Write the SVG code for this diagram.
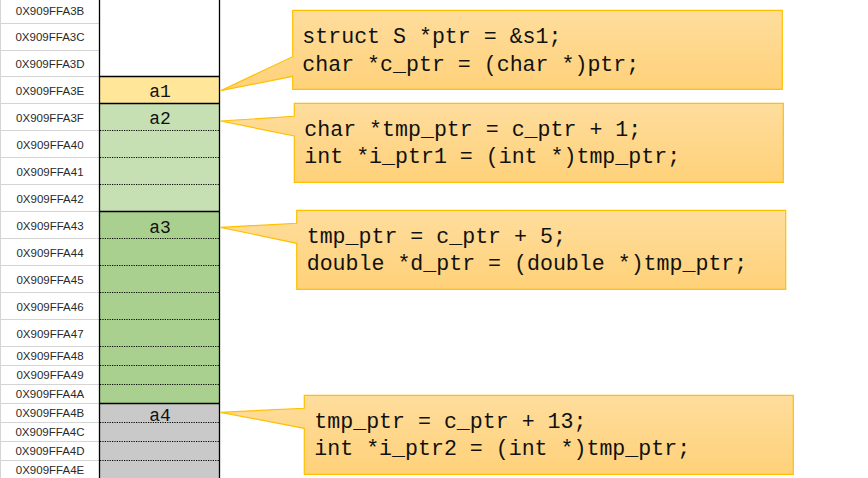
<svg xmlns="http://www.w3.org/2000/svg" width="868" height="478" viewBox="0 0 868 478">
<defs>
<linearGradient id="og" x1="0" y1="0" x2="0" y2="1">
<stop offset="0" stop-color="#FEDD9D"/>
<stop offset="1" stop-color="#FFD179"/>
</linearGradient>
<style>
.addr{font-family:"Liberation Sans",Arial,sans-serif;font-size:11.5px;fill:#2a2a2a;text-anchor:middle}
.grid{stroke:#D4D4D4;stroke-width:1}
.solid{stroke:#000;stroke-width:1.3;fill:none}
.dot{stroke:#000;stroke-width:1;stroke-dasharray:1.2 1.2}
.var{font-family:"Liberation Mono","DejaVu Sans Mono",monospace;font-size:18px;fill:#111;text-anchor:middle}
.code{font-family:"Liberation Mono","DejaVu Sans Mono",monospace;font-size:21.6px;fill:#111}
.call{fill:url(#og);stroke:#FFC000;stroke-width:1.2}
</style>
</defs>
<rect width="868" height="478" fill="#fff"/>

<g id="addresses">
<line class="grid" x1="0.5" y1="0" x2="0.5" y2="478"/>
<g class="grid">
<line x1="0" y1="23.5" x2="99" y2="23.5"/>
<line x1="0" y1="50.5" x2="99" y2="50.5"/>
<line x1="0" y1="76.5" x2="99" y2="76.5"/>
<line x1="0" y1="103.5" x2="99" y2="103.5"/>
<line x1="0" y1="130.5" x2="99" y2="130.5"/>
<line x1="0" y1="157.5" x2="99" y2="157.5"/>
<line x1="0" y1="184.5" x2="99" y2="184.5"/>
<line x1="0" y1="211.5" x2="99" y2="211.5"/>
<line x1="0" y1="238.5" x2="99" y2="238.5"/>
<line x1="0" y1="265.5" x2="99" y2="265.5"/>
<line x1="0" y1="292.5" x2="99" y2="292.5"/>
<line x1="0" y1="319.5" x2="99" y2="319.5"/>
<line x1="0" y1="346.5" x2="99" y2="346.5"/>
<line x1="0" y1="365.5" x2="99" y2="365.5"/>
<line x1="0" y1="384.5" x2="99" y2="384.5"/>
<line x1="0" y1="403.5" x2="99" y2="403.5"/>
<line x1="0" y1="422.5" x2="99" y2="422.5"/>
<line x1="0" y1="441.5" x2="99" y2="441.5"/>
<line x1="0" y1="460.5" x2="99" y2="460.5"/>
</g>
<text class="addr" x="50" y="15">0X909FFA3B</text>
<text class="addr" x="50" y="41">0X909FFA3C</text>
<text class="addr" x="50" y="68">0X909FFA3D</text>
<text class="addr" x="50" y="95">0X909FFA3E</text>
<text class="addr" x="50" y="122">0X909FFA3F</text>
<text class="addr" x="50" y="149">0X909FFA40</text>
<text class="addr" x="50" y="176">0X909FFA41</text>
<text class="addr" x="50" y="203">0X909FFA42</text>
<text class="addr" x="50" y="230">0X909FFA43</text>
<text class="addr" x="50" y="257">0X909FFA44</text>
<text class="addr" x="50" y="284">0X909FFA45</text>
<text class="addr" x="50" y="311">0X909FFA46</text>
<text class="addr" x="50" y="338">0X909FFA47</text>
<text class="addr" x="50" y="360">0X909FFA48</text>
<text class="addr" x="50" y="379">0X909FFA49</text>
<text class="addr" x="50" y="398">0X909FFA4A</text>
<text class="addr" x="50" y="417">0X909FFA4B</text>
<text class="addr" x="50" y="436">0X909FFA4C</text>
<text class="addr" x="50" y="455">0X909FFA4D</text>
<text class="addr" x="50" y="474">0X909FFA4E</text>
</g>

<g id="a1">
<rect x="99.5" y="76.5" width="120" height="27" fill="#FFE699"/>
<text class="var" x="160" y="97">a1</text>
</g>
<g id="a2">
<rect x="99.5" y="103.5" width="120" height="108" fill="#C6E0B4"/>
<line class="dot" x1="100" y1="130.5" x2="219" y2="130.5"/>
<line class="dot" x1="100" y1="157.5" x2="219" y2="157.5"/>
<line class="dot" x1="100" y1="184.5" x2="219" y2="184.5"/>
<text class="var" x="160" y="124">a2</text>
</g>
<g id="a3">
<rect x="99.5" y="211.5" width="120" height="192" fill="#A9D08E"/>
<line class="dot" x1="100" y1="238.5" x2="219" y2="238.5"/>
<line class="dot" x1="100" y1="265.5" x2="219" y2="265.5"/>
<line class="dot" x1="100" y1="292.5" x2="219" y2="292.5"/>
<line class="dot" x1="100" y1="319.5" x2="219" y2="319.5"/>
<line class="dot" x1="100" y1="346.5" x2="219" y2="346.5"/>
<line class="dot" x1="100" y1="365.5" x2="219" y2="365.5"/>
<line class="dot" x1="100" y1="384.5" x2="219" y2="384.5"/>
<text class="var" x="160" y="232.5">a3</text>
</g>
<g id="a4">
<rect x="99.5" y="403.5" width="120" height="76" fill="#C9C9C9"/>
<line class="dot" x1="100" y1="422.5" x2="219" y2="422.5"/>
<line class="dot" x1="100" y1="441.5" x2="219" y2="441.5"/>
<line class="dot" x1="100" y1="460.5" x2="219" y2="460.5"/>
<text class="var" x="160" y="421">a4</text>
</g>
<g id="memory-borders">
<line class="solid" x1="99.5" y1="0" x2="99.5" y2="478"/>
<line class="solid" x1="219.5" y1="0" x2="219.5" y2="478"/>
<line class="solid" x1="99.5" y1="76.5" x2="219.5" y2="76.5"/>
<line class="solid" x1="99.5" y1="103.5" x2="219.5" y2="103.5"/>
<line class="solid" x1="99.5" y1="211.5" x2="219.5" y2="211.5"/>
<line class="solid" x1="99.5" y1="403.5" x2="219.5" y2="403.5"/>
</g>

<g id="connectors">
</g>

<g id="callout1">
<path class="call" d="M292.7,10.3 H782.3 V89.3 H292.7 V76.3 L220.5,90.7 L292.7,56.7 Z"/>
<text class="code" x="302.3" y="43">struct S *ptr = &amp;s1;</text>
<text class="code" x="302.3" y="71">char *c_ptr = (char *)ptr;</text>
</g>
<g id="callout2">
<path class="call" d="M294.3,103.3 H783.3 V182.3 H294.3 V136 L220.5,121 L294.3,116.3 Z"/>
<text class="code" x="304.3" y="136">char *tmp_ptr = c_ptr + 1;</text>
<text class="code" x="304.3" y="163.3">int *i_ptr1 = (int *)tmp_ptr;</text>
</g>
<g id="callout3">
<path class="call" d="M296.7,210.3 H785.7 V289.3 H296.7 V243.3 L220.5,227.3 L296.7,223.3 Z"/>
<text class="code" x="306.7" y="243.3">tmp_ptr = c_ptr + 5;</text>
<text class="code" x="306.7" y="270">double *d_ptr = (double *)tmp_ptr;</text>
</g>
<g id="callout4">
<path class="call" d="M304.3,395.3 H793.3 V474.3 H304.3 V428.3 L220.5,412.3 L304.3,408.3 Z"/>
<text class="code" x="314.3" y="428.3">tmp_ptr = c_ptr + 13;</text>
<text class="code" x="314.3" y="455">int *i_ptr2 = (int *)tmp_ptr;</text>
</g>
</svg>
